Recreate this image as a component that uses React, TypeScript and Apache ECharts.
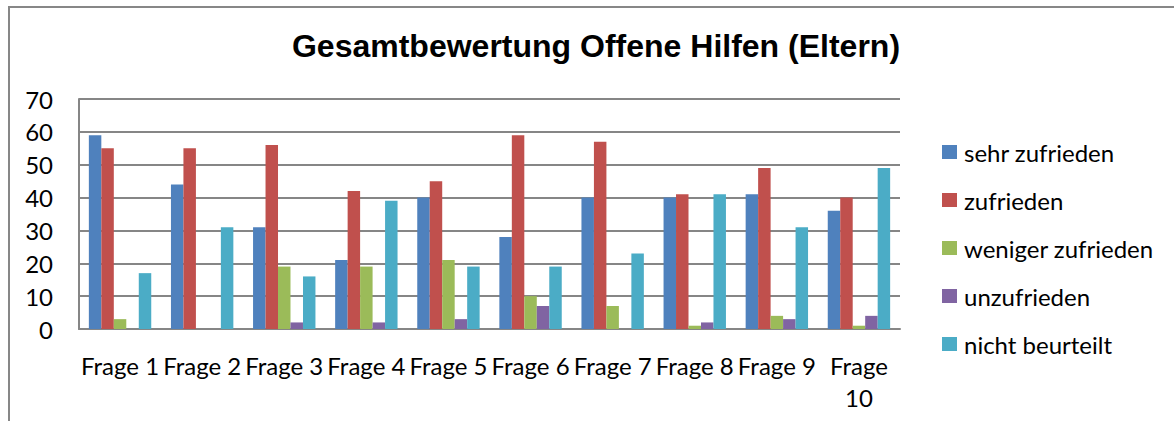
import React, { useEffect, useRef } from "react";
import * as echarts from "echarts";

const categories = ["Frage 1", "Frage 2", "Frage 3", "Frage 4", "Frage 5", "Frage 6", "Frage 7", "Frage 8", "Frage 9", "Frage 10"];
const sehrZufrieden = [59, 44, 31, 21, 40, 28, 40, 40, 41, 36];
const zufrieden = [55, 55, 56, 42, 45, 59, 57, 41, 49, 40];
const wenigerZufrieden = [3, 0, 19, 19, 21, 10, 7, 1, 4, 1];
const unzufrieden = [0, 0, 2, 2, 3, 7, 0, 2, 3, 4];
const nichtBeurteilt = [17, 31, 16, 39, 19, 19, 23, 41, 31, 49];
const seriesNames = ["sehr zufrieden", "zufrieden", "weniger zufrieden", "unzufrieden", "nicht beurteilt"];
const seriesData = [sehrZufrieden, zufrieden, wenigerZufrieden, unzufrieden, nichtBeurteilt];
const colors = ["#4F81BD", "#C0504D", "#9BBB59", "#8064A2", "#4BACC6"];
const titleText = "Gesamtbewertung Offene Hilfen (Eltern)";

const labelFont = "Lato, 'Open Sans', sans-serif";

export default function App() {
  const ref = useRef<HTMLDivElement>(null);
  useEffect(() => {
    document.body.style.margin = "0";
    const chart = echarts.init(ref.current!, null, { renderer: "svg" });
    chart.setOption({
      animation: false,
      backgroundColor: "#ffffff",
      title: {
        text: titleText,
        left: 596,
        textAlign: "center",
        top: 30,
        padding: 0,
        textStyle: {
          fontFamily: "'Liberation Sans', Arial, sans-serif",
          fontWeight: "bold",
          fontSize: 32,
          color: "#000",
        },
      },
      graphic: [
        { type: "line", shape: { x1: 9, y1: 7, x2: 9, y2: 430 }, style: { stroke: "#878787", lineWidth: 2 } },
        { type: "line", shape: { x1: 8, y1: 7, x2: 1180, y2: 7 }, style: { stroke: "#878787", lineWidth: 2 } },
      ],
      legend: {
        orient: "vertical",
        left: 942,
        top: 140,
        padding: 0,
        itemWidth: 15,
        itemHeight: 14,
        itemGap: 24,
        icon: "rect",
        data: seriesNames,
        textStyle: { fontFamily: labelFont, fontSize: 24, color: "#000", lineHeight: 24, padding: [0, 0, 0, 2] },
      },
      grid: { left: 79, right: 274, top: 99, bottom: 92, containLabel: false },
      xAxis: {
        type: "category",
        data: categories,
        axisLine: { lineStyle: { color: "#868686", width: 2 } },
        axisTick: { show: false },
        axisLabel: {
          interval: 0,
          fontFamily: labelFont,
          fontSize: 24,
          color: "#000",
          lineHeight: 32,
          margin: 20,
          formatter: (v: string) => (v === "Frage 10" ? "Frage\n10" : v),
        },
      },
      yAxis: {
        type: "value",
        min: 0,
        max: 70,
        interval: 10,
        axisLine: { show: true, lineStyle: { color: "#868686", width: 2 } },
        axisTick: { show: false },
        splitLine: { lineStyle: { color: "#868686", width: 2 } },
        axisLabel: { fontFamily: labelFont, fontSize: 24, color: "#000", margin: 26 },
      },
      series: seriesData.map((d, i) => ({
        name: seriesNames[i],
        type: "bar",
        data: d,
        barGap: "0%",
        barCategoryGap: "24%",
        itemStyle: { color: colors[i] },
      })),
    });
    return () => chart.dispose();
  }, []);
  return <div ref={ref} style={{ width: 1174, height: 421 }} />;
}
